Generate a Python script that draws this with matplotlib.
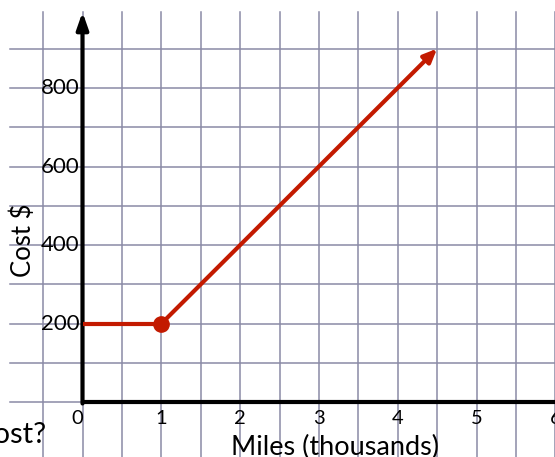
import matplotlib
matplotlib.use("Agg")
import matplotlib.pyplot as plt
import numpy as np

plt.rcParams['font.family'] = ['Lato', 'DejaVu Sans']

# data
miles = [0, 1, 4.5]            # thousands of miles
cost = [200, 200, 900]         # dollars
x_ticks = [0, 1, 2, 3, 4, 5, 6]
y_ticks = [200, 400, 600, 800]
v_grid = np.arange(-0.5, 6.01, 0.5)
h_grid = np.arange(0, 901, 100)

red = '#c31a00'
grid_c = '#8a8aa6'

fig = plt.figure(figsize=(5.55, 4.57), dpi=100)
ax = fig.add_axes([0, 0, 1, 1])
ax.set_xlim(-1.047, 5.996)
ax.set_ylim(-139.2, 1023.7)
ax.axis('off')

# graph paper
for gx in v_grid:
    ax.plot([gx, gx], [-139.2, 993], color=grid_c, lw=1.1, zorder=1)
for gy in h_grid:
    ax.plot([-0.92, 5.996], [gy, gy], color=grid_c, lw=1.1, zorder=1)

# axes
ax.plot([0, 5.996], [0, 0], color='black', lw=3, zorder=3, solid_capstyle='butt')
ax.annotate('', xy=(0, 993), xytext=(0, -3),
            arrowprops=dict(arrowstyle='-|>,head_length=1.0,head_width=0.35',
                            color='black', lw=3, shrinkA=0, shrinkB=0), zorder=3)

# tick labels
for t in x_ticks:
    ax.text(-0.07 if t == 0 else t, -40, str(t), ha='center', va='center', fontsize=14.5)
for t in y_ticks:
    ax.text(-0.04, t, str(t), ha='right', va='center', fontsize=16)

ax.text(3.2, -134, 'Miles (thousands)', ha='center', va='baseline', fontsize=19.5)
ax.text(-0.755, 413, 'Cost $', rotation=90, ha='center', va='center', fontsize=18.5)
ax.text(-0.46, -103.6, 'Cost?', ha='right', va='baseline', fontsize=21)

# cost line
ax.plot(miles[:2], cost[:2], color=red, lw=3, zorder=4, solid_capstyle='butt')
ax.annotate('', xy=(miles[2], cost[2]), xytext=(miles[1], cost[1]),
            arrowprops=dict(arrowstyle='-|>,head_length=0.8,head_width=0.35',
                            color=red, lw=3, shrinkA=0, shrinkB=0), zorder=4)
ax.plot(miles[1], cost[1], 'o', color=red, ms=11, zorder=5)

fig.savefig('out.png', dpi=100)
